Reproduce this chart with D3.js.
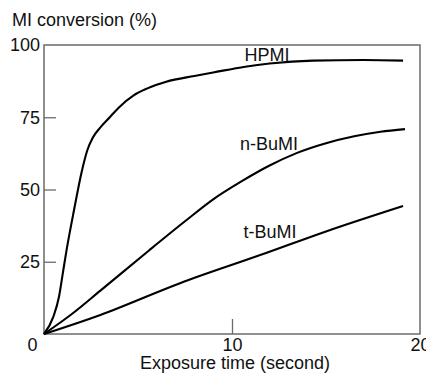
<!DOCTYPE html>
<html>
<head>
<meta charset="utf-8">
<script src="https://cdn.jsdelivr.net/npm/d3@7"></script>
<style>
  body { margin: 0; background: #fff; }
  svg { display: block; font-family: "Liberation Sans", Arial, Helvetica, sans-serif; }
</style>
</head>
<body>
<div id="chart"></div>
<script>
var svgWidth = 426;
var svgHeight = 374;

// values (time in s, conversion in %)
var hpmiTime = [0, 0.5, 0.8, 1.0, 1.2, 1.6, 2.0, 2.3, 2.6, 3.0, 3.5, 4.0, 4.75, 5.5, 6.5, 8, 9, 10.7, 12, 14.3, 17, 19.1];
var hpmiConv = [0, 6, 13, 21, 29, 43, 56, 63.5, 68, 71.5, 75, 78.5, 82.5, 85, 87.3, 89.3, 90.5, 92.5, 93.6, 94.6, 94.8, 94.6];

var nbuTime = [0, 1.5, 3, 5.6, 7.5, 9, 10.5, 12, 13.4, 15, 16.5, 17.9, 19.2];
var nbuConv = [0, 7, 15, 29, 39, 46.6, 52.8, 58.3, 62.5, 66, 68.4, 70, 70.9];

var tbuTime = [0, 3, 7.2, 11.5, 15, 19.1];
var tbuConv = [0, 6.6, 17.5, 27.3, 35.5, 44.3];

var seriesNames = ["HPMI", "n-BuMI", "t-BuMI"];
var labelPos = [[267, 61], [269, 150], [270, 238]];  // label anchor in px

var yTicks = [25, 50, 75, 100];
var xTicks = [0, 10, 20];

var margin = {top: 45, right: 6, bottom: 40, left: 44};
var width = svgWidth - margin.left - margin.right;
var height = svgHeight - margin.top - margin.bottom;

var svg = d3.select("#chart")
            .append("svg")
            .attr("width", svgWidth)
            .attr("height", svgHeight);

var chart = svg.append("g").attr("transform", `translate(${margin.left}, ${margin.top})`);

var xScale = d3.scaleLinear().domain([0, 20]).range([0, width]);
var yScale = d3.scaleLinear().domain([0, 100]).range([height, 0]);

var frameColor = "#6b6b6b";

// frame
chart.append("rect")
     .attr("x", 0).attr("y", 0)
     .attr("width", width).attr("height", height)
     .attr("fill", "none")
     .attr("stroke", frameColor)
     .attr("stroke-width", 1.5);

var yAxis = d3.axisLeft(yScale).tickValues(yTicks).tickSizeInner(-12).tickSizeOuter(0).tickPadding(4);
var gy = chart.append("g").call(yAxis);
gy.select(".domain").remove();
gy.selectAll("line").attr("stroke", frameColor).attr("stroke-width", 1.3)
  .filter(d => d == 100).remove();
gy.selectAll("text").attr("font-size", 18).attr("fill", "#111").attr("font-family", null);

var xAxis = d3.axisBottom(xScale).tickValues(xTicks).tickSizeInner(-15).tickSizeOuter(0).tickPadding(4);
var gx = chart.append("g").attr("transform", `translate(0, ${height})`).call(xAxis);
gx.select(".domain").remove();
gx.selectAll("line").attr("stroke", frameColor).attr("stroke-width", 1.3)
  .filter(d => d != 10).remove();
gx.selectAll("text").attr("font-size", 18).attr("fill", "#111").attr("font-family", null)
  .attr("x", d => d == 0 ? -12 : 0);

// curves
var line = d3.line()
             .x(d => xScale(d[0]))
             .y(d => yScale(d[1]))
             .curve(d3.curveMonotoneX);

var series = [
  d3.zip(hpmiTime, hpmiConv),
  d3.zip(nbuTime, nbuConv),
  d3.zip(tbuTime, tbuConv)
];

chart.selectAll(".curve")
     .data(series)
     .enter()
     .append("path")
     .attr("class", "curve")
     .attr("d", line)
     .attr("fill", "none")
     .attr("stroke", "#000")
     .attr("stroke-width", 2.1);

svg.selectAll(".lbl")
   .data(seriesNames)
   .enter()
   .append("text")
   .attr("class", "lbl")
   .attr("x", (d, i) => labelPos[i][0])
   .attr("y", (d, i) => labelPos[i][1])
   .attr("text-anchor", "middle")
   .attr("font-size", 18)
   .attr("fill", "#111")
   .text(d => d);

// titles
svg.append("text")
   .attr("x", 12).attr("y", 26)
   .attr("font-size", 18).attr("fill", "#111")
   .text("MI conversion (%)");

svg.append("text")
   .attr("x", 235).attr("y", 369)
   .attr("text-anchor", "middle")
   .attr("font-size", 18).attr("fill", "#111")
   .text("Exposure time (second)");
</script>
</body>
</html>
